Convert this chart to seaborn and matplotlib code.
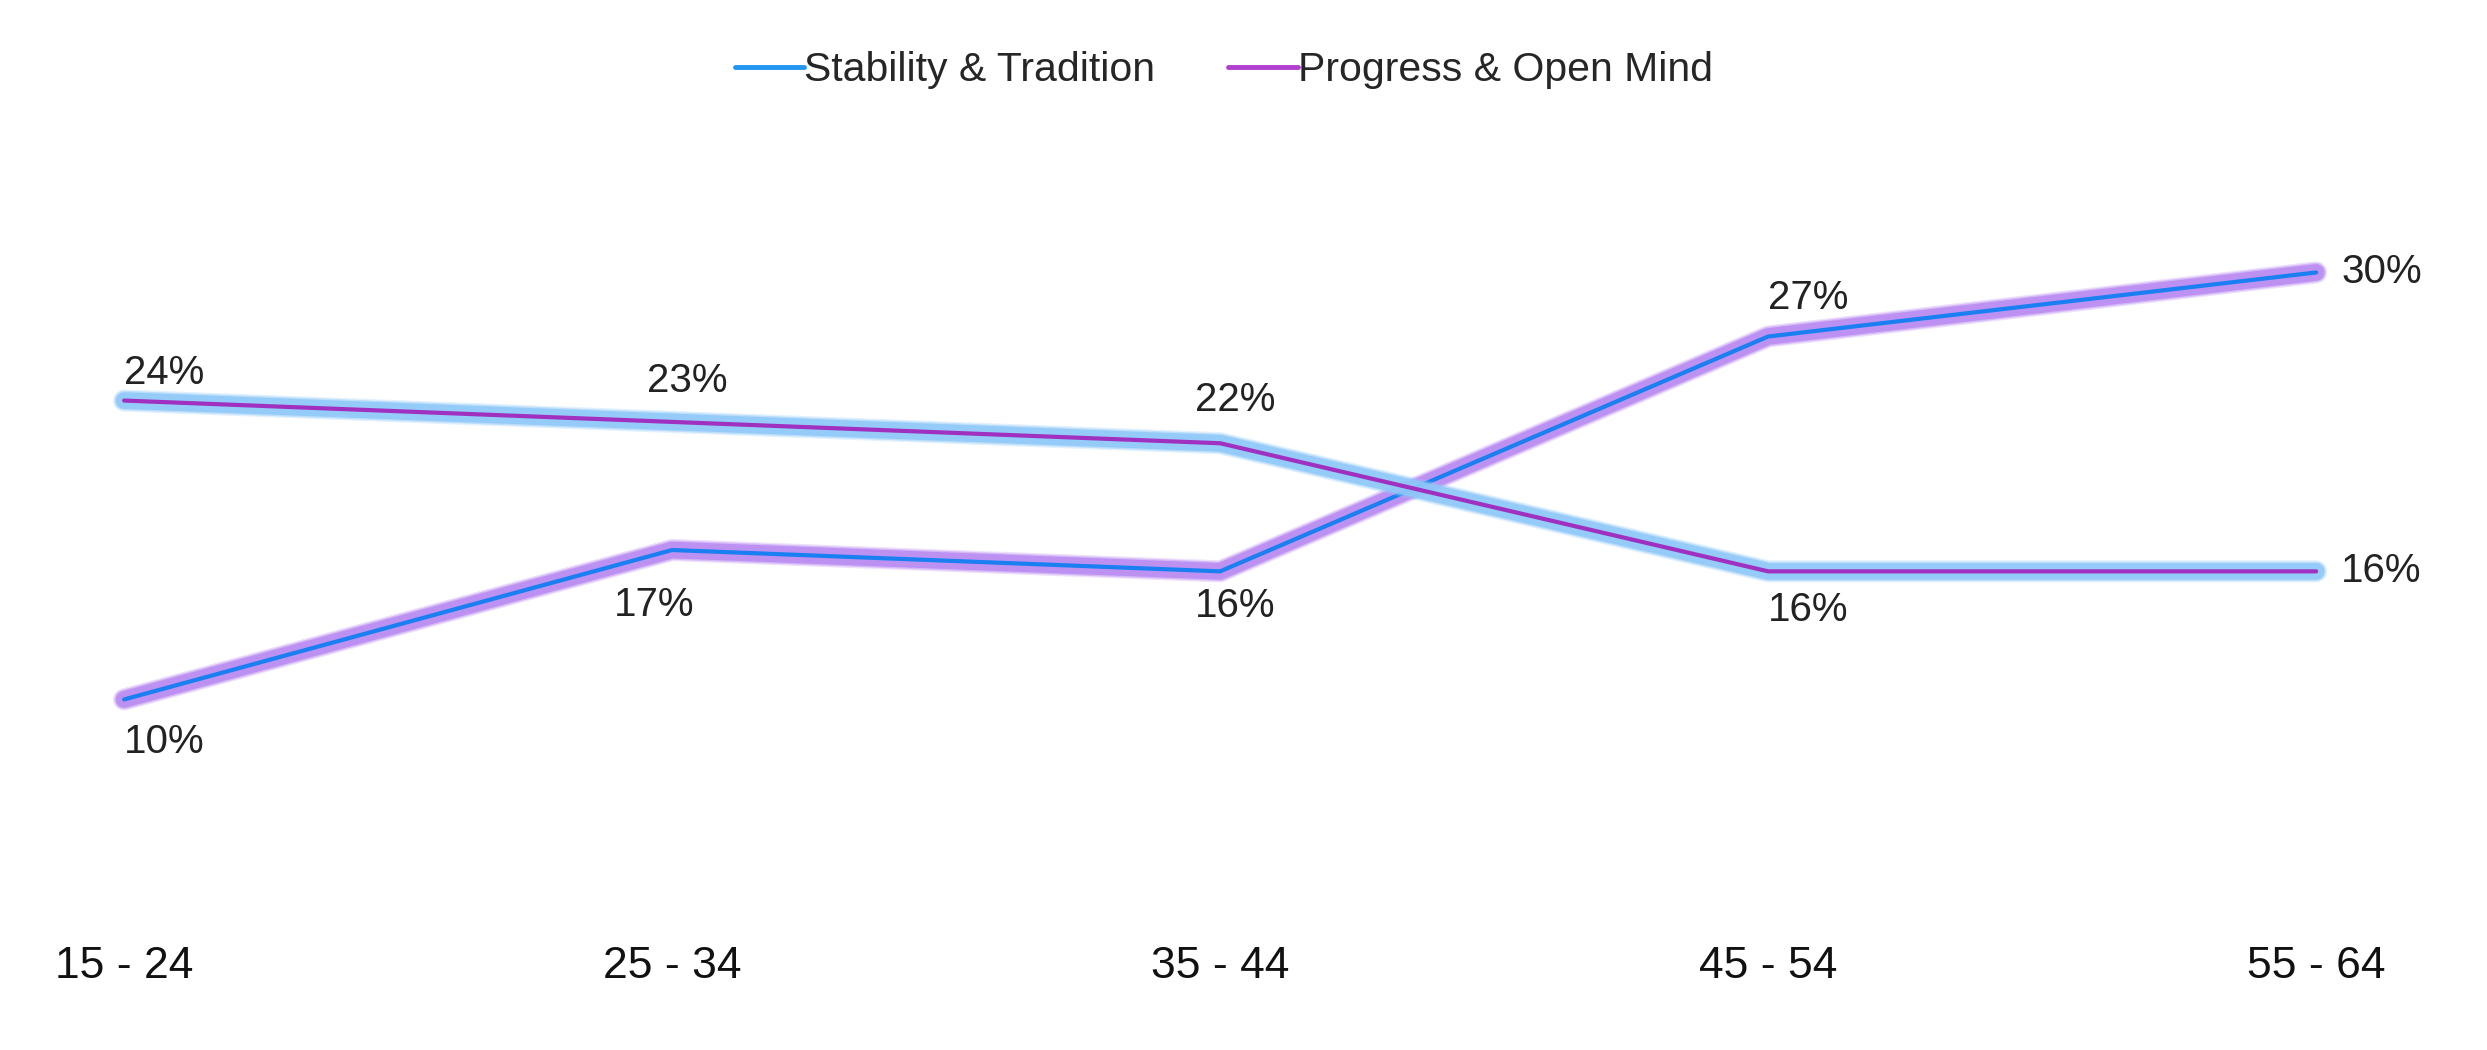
#Importing packages
import pandas as pd
import numpy as np
import matplotlib.pyplot as plt
import matplotlib.patheffects as pe
from matplotlib.lines import Line2D
import seaborn as sns

#chart values
age_groups = ['15 - 24', '25 - 34', '35 - 44', '45 - 54', '55 - 64']
stability = [10, 17, 16, 27, 30]
progress = [24, 23, 22, 16, 16]
series_names = ['Stability & Tradition', 'Progress & Open Mind']

#long form table for seaborn
df = pd.DataFrame({
    'age': age_groups * 2,
    'value': stability + progress,
    'series': [series_names[0]] * 5 + [series_names[1]] * 5,
})

sns.set_style('white')
plt.rcParams['font.family'] = ['Liberation Sans', 'DejaVu Sans']

line_cols = {series_names[0]: '#1a7ff0', series_names[1]: '#a030c0'}
glow_cols = {series_names[0]: '#b98af2', series_names[1]: '#8ec8f8'}

fig = plt.figure(figsize=(24.87, 10.5), dpi=100)
ax = fig.add_axes([0.0499, 0.1305, 0.8814, 0.7117])

sns.lineplot(data=df, x='age', y='value', hue='series', palette=line_cols,
             sort=False, linewidth=3.0, legend=False, ax=ax)

#soft glow round each line
for line, name in zip(ax.lines, series_names):
    g = glow_cols[name]
    line.set_clip_on(False)
    line.set_solid_capstyle('round')
    line.set_solid_joinstyle('round')
    line.set_path_effects([
        pe.Stroke(linewidth=16, foreground=g, alpha=0.25),
        pe.Stroke(linewidth=14, foreground=g, alpha=0.45),
        pe.Stroke(linewidth=12, foreground=g, alpha=0.85),
        pe.Normal(),
    ])

ax.set_xlim(0, 4)
ax.set_ylim(0, 35)

#data labels (offsets in pixels)
stab_off = [(0, -43, 'left'), (-18, -55, 'center'), (15, -35, 'center'), (0, 38, 'left'), (25, 0, 'left')]
prog_off = [(0, 28, 'left'), (15, 41, 'center'), (15, 43, 'center'), (0, -39, 'left'), (25, 0, 'left')]
for vals, offs in [(stability, stab_off), (progress, prog_off)]:
    for i, (v, (dx, dy, ha)) in enumerate(zip(vals, offs)):
        ax.annotate(f'{v}%', (i, v), xytext=(dx, dy), textcoords='offset pixels',
                    ha=ha, va='center', fontsize=29, color='#222222',
                    annotation_clip=False)

ax.set_xlabel('')
ax.set_ylabel('')
ax.set_yticks([])
ax.tick_params(axis='x', length=0, pad=24, labelsize=32, labelcolor='#111111')
sns.despine(ax=ax, left=True, bottom=True)

#legend at top
handles = [Line2D([0], [0], color='#2196f3', lw=3.5),
           Line2D([0], [0], color='#b040d0', lw=3.5)]
fig.legend(handles, series_names, loc='center', bbox_to_anchor=(0.492, 0.933),
           ncol=2, frameon=False, fontsize=29.5, handlelength=1.7,
           handletextpad=0.0, columnspacing=1.77)

#saving plot
fig.savefig('out.png', dpi=100, facecolor='white')
